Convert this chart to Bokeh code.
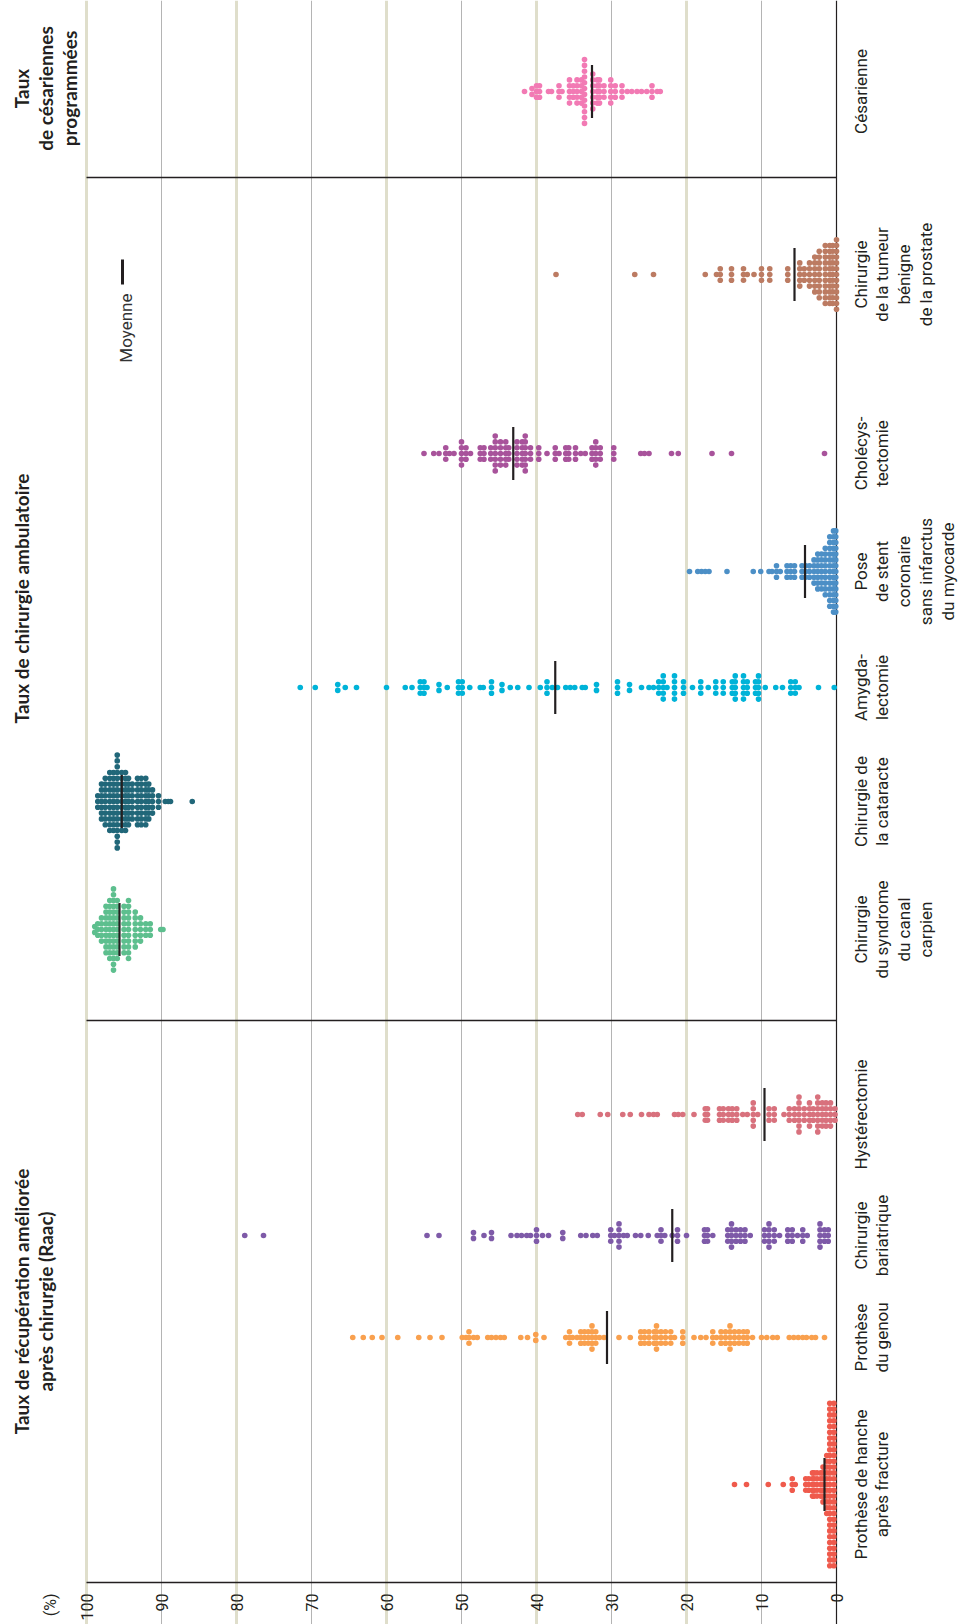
import numpy as np
from math import pi
from bokeh.plotting import figure
from bokeh.models import Range1d, FixedTicker, Grid, Span, ColumnDataSource
from bokeh.core.properties import value
from bokeh.embed import file_html
from bokeh.resources import INLINE

# ---------------------------------------------------------------------------
# Data: rate (%) per hospital, grouped as (rate, number of hospitals at it)
# ---------------------------------------------------------------------------
categories = [
    "Prothèse de hanche\naprès fracture",
    "Prothèse\ndu genou",
    "Chirurgie\nbariatrique",
    "Hystérectomie",
    "Chirurgie\ndu syndrome\ndu canal\ncarpien",
    "Chirurgie de\nla cataracte",
    "Amygda-\nlectomie",
    "Pose\nde stent\ncoronaire\nsans infarctus\ndu myocarde",
    "Cholécys-\ntectomie",
    "Chirurgie\nde la tumeur\nbénigne\nde la prostate",
    "Césarienne",
]

hip_vals = [13.6, 12.0, 9.1, 7.1, 5.9, 5.5, 4.1, 3.7, 3.2, 3.0, 2.6, 2.1, 1.8, 1.3, 0.9, 0.35]
hip_counts = [1, 1, 1, 1, 3, 1, 3, 3, 5, 5, 5, 5, 7, 11, 29, 29]

knee_vals = [64.5, 63.1, 61.9, 60.6, 58.5, 55.7, 54.2, 52.6,
             49.9, 49.4, 49.0, 48.4, 47.9, 46.5, 46.0, 45.4, 44.8, 44.3,
             42.1, 41.2, 40.1, 39.0,
             36.1, 35.6, 35.2, 34.6, 34.1, 33.6, 33.1, 32.6, 32.1, 31.6, 31.0,
             29.0, 27.5,
             26.1, 25.6, 25.0, 24.3, 24.0, 23.4, 22.8, 22.1, 21.6, 20.5,
             19.0, 18.1, 17.4,
             16.5, 16.0, 15.4, 14.8, 14.2, 13.6, 13.0, 12.4, 11.9, 11.2,
             10.0, 9.3, 8.5, 7.9,
             6.3, 5.7, 5.1, 4.5, 4.0, 3.3, 2.8, 1.6]
knee_counts = [1, 1, 1, 1, 1, 1, 1, 1,
               1, 1, 3, 1, 1, 1, 1, 1, 1, 1,
               1, 1, 2, 1,
               1, 3, 1, 1, 3, 3, 3, 5, 3, 1, 1,
               1, 1,
               3, 3, 3, 3, 5, 3, 3, 3, 1, 3,
               1, 1, 1,
               3, 1, 3, 3, 5, 3, 3, 3, 3, 1,
               1, 1, 1, 1,
               1, 1, 1, 1, 1, 1, 1, 1]

bari_vals = [78.9, 76.4, 54.6, 53.0,
             48.4, 47.0, 46.0,
             43.4, 42.6, 42.0, 41.3, 40.8, 40.0, 39.2, 38.4,
             36.5,
             34.1, 33.4, 32.5, 31.9,
             30.1, 29.6, 29.0, 28.4, 27.9,
             26.8, 26.1, 25.1,
             23.9, 23.4, 22.9,
             21.9, 21.2, 20.0,
             17.6, 17.2, 16.5,
             14.5, 14.0, 13.4, 12.8, 12.2, 11.5,
             9.6, 9.0, 8.3, 7.6,
             6.5, 5.9, 5.2, 4.5, 3.9,
             2.2, 1.6, 1.1]
bari_counts = [1, 1, 1, 1,
               2, 1, 2,
               1, 1, 1, 1, 1, 3, 1, 1,
               2,
               1, 1, 1, 1,
               3, 1, 5, 1, 1,
               1, 1, 1,
               1, 3, 1,
               1, 3, 1,
               3, 3, 1,
               3, 5, 3, 3, 3, 1,
               3, 5, 3, 1,
               3, 3, 1, 3, 1,
               5, 3, 3]

hyst_vals = [34.5, 33.9, 31.5, 30.5, 28.5, 27.5, 26.0, 25.0, 24.4, 23.9,
             21.6, 21.1, 20.5, 19.0,
             17.5, 17.2, 15.6, 15.1, 14.4, 13.9, 13.3,
             12.5, 11.9, 11.1, 10.5, 9.0, 8.3,
             7.0, 6.3, 5.6, 5.0, 4.3, 3.6, 3.1,
             2.5, 1.9, 1.4, 0.8, 0.2]
hyst_counts = [1, 1, 1, 1, 1, 1, 1, 1, 1, 1,
               1, 1, 1, 1,
               3, 3, 3, 3, 3, 3, 3,
               1, 1, 5, 1, 3, 3,
               1, 3, 3, 7, 3, 5, 3,
               7, 5, 5, 5, 3]

carpal_vals = [98.9, 98.5, 98.0, 97.4, 96.9, 96.4, 95.9, 95.0, 94.4, 93.5, 92.8, 92.1, 91.5, 90.1, 89.8]
carpal_counts = [2, 3, 5, 9, 11, 15, 11, 9, 11, 7, 5, 3, 3, 1, 1]

cata_vals = [98.5, 98.0, 97.5, 96.9, 96.4, 95.9, 95.3, 94.8, 94.4, 93.9,
             93.2, 92.7, 92.1, 91.7, 91.2, 90.4, 89.5, 89.1, 88.8, 85.9]
cata_counts = [3, 7, 9, 11, 11, 17, 11, 11, 9, 7,
               9, 9, 9, 7, 5, 3, 1, 1, 1, 1]

amyg_vals = [71.5, 69.5, 66.5, 65.5, 64.0,
             60.0, 57.5, 56.6,
             55.5, 55.0, 54.6,
             53.0, 51.9,
             50.4, 49.9, 48.9,
             47.5, 47.1, 46.0,
             44.6, 43.5, 42.5, 41.0,
             39.5, 38.6, 37.9, 37.2,
             36.1, 35.5, 34.9,
             33.9, 33.5, 32.0,
             29.2, 27.6, 26.0,
             25.0, 24.4, 23.7, 23.1, 22.6,
             21.6, 20.4, 19.2,
             18.1, 17.1, 16.1, 15.1,
             13.9, 13.5, 12.4, 11.9,
             10.8, 10.4, 9.5,
             8.1, 7.2, 6.1, 5.5, 5.0,
             2.4, 0.3]
amyg_counts = [1, 1, 2, 1, 1,
               1, 1, 1,
               3, 3, 1,
               2, 1,
               3, 3, 1,
               1, 1, 3,
               2, 1, 1, 1,
               1, 3, 1, 1,
               1, 1, 1,
               1, 1, 2,
               3, 2, 1,
               1, 1, 3, 5, 1,
               5, 3, 1,
               3, 1, 3, 3,
               3, 5, 5, 3,
               3, 5, 1,
               1, 1, 3, 3, 1,
               1, 1]

stent_vals = [19.6, 18.5, 18.0, 17.5, 17.0, 14.6, 11.1, 10.1, 9.0, 8.6,
              8.0, 7.5, 6.6, 6.1, 5.6, 4.6, 4.1, 3.6, 3.0, 2.5, 2.0, 1.5, 0.9, 0.4, 0.1]
stent_counts = [1, 1, 1, 1, 1, 1, 1, 1, 1, 1,
                3, 1, 3, 3, 3, 3, 3, 3, 5, 7, 7, 9, 13, 15, 15]

chole_vals = [55.0, 53.7, 53.0, 52.1, 51.6, 51.0, 50.0, 49.4, 48.8, 47.5,
              47.0, 46.1, 45.5, 44.8, 44.1, 43.7, 42.6, 41.9, 41.5, 40.8,
              39.7, 38.6, 37.5, 37.0, 36.1, 35.7, 34.8, 34.1, 33.5, 32.6,
              32.1, 31.5, 29.7, 26.1, 25.6, 25.0, 22.0, 21.1, 16.6, 14.0,
              1.6]
chole_counts = [1, 1, 1, 3, 1, 1, 5, 3, 1, 3,
                3, 3, 7, 5, 5, 3, 5, 5, 7, 3,
                3, 1, 3, 1, 3, 3, 3, 1, 1, 3,
                5, 3, 3, 1, 1, 1, 1, 1, 1, 1,
                1]

prost_vals = [37.4, 26.9, 24.4, 17.5, 16.0, 15.5, 14.0, 12.4, 11.9, 11.0, 10.0,
              8.9, 6.5, 4.9, 4.3, 3.6, 2.9, 2.3, 1.5, 0.9, 0.5, 0.0]
prost_counts = [1, 1, 1, 1, 1, 3, 3, 3, 1, 1, 3,
                3, 3, 5, 3, 5, 7, 9, 11, 11, 11, 13]

ces_vals = [41.6, 40.6, 40.0, 39.6, 38.4, 38.0, 37.0, 36.6, 35.6, 35.1,
            34.6, 34.0, 33.6, 32.5, 31.9, 31.6, 31.0, 30.1, 29.5, 28.6,
            27.9, 27.3, 26.6, 26.0, 25.3, 24.6, 23.9, 23.5]
ces_counts = [1, 2, 3, 3, 1, 1, 3, 1, 5, 3,
              5, 5, 12, 7, 5, 5, 3, 5, 3, 3,
              1, 1, 1, 1, 1, 3, 1, 1]

mean_values = [1.6, 30.6, 21.9, 9.6, 95.6, 95.3, 37.5, 4.2, 43.1, 5.6, 32.6]

section_titles = [
    "Taux de récupération améliorée\naprès chirurgie (Raac)",
    "Taux de chirurgie ambulatoire",
    "Taux\nde césariennes\nprogrammées",
]

tick_values = [0, 10, 20, 30, 40, 50, 60, 70, 80, 90, 100]
tick_labels = ["0", "10", "20", "30", "40", "50", "60", "70", "80", "90", "100"]
unit_label = "(%)"

# ---------------------------------------------------------------------------
# Layout and styling
# ---------------------------------------------------------------------------
W, H = 965, 1624
AXIS_PX = 1582              # pixel row of the value axis
PX_PER_UNIT = 7.5           # horizontal pixels per percentage point
ZERO_PX = 836               # pixel column of the 0 % line


def xval(px):
    """Horizontal canvas pixel -> value on the (reversed) percentage scale."""
    return (ZERO_PX - px) / PX_PER_UNIT


def yval(py):
    """Vertical canvas pixel (from top) -> data y (pixels above the axis)."""
    return AXIS_PX - py


row_y = [yval(p) for p in (1484, 1337, 1235, 1114, 929, 801, 687, 571, 453, 274, 91)]
separator_y = [yval(177), yval(1020)]
title_y = [yval(1301), yval(598), yval(88)]

colors = ["#ef5a4c", "#f9a04e", "#7e5aa8", "#d8717d", "#5dbf8e", "#216779",
          "#00b3d8", "#4c8fc6", "#a8539b", "#bc7b62", "#f27ab4"]

series = [
    (hip_vals, hip_counts), (knee_vals, knee_counts), (bari_vals, bari_counts),
    (hyst_vals, hyst_counts), (carpal_vals, carpal_counts), (cata_vals, cata_counts),
    (amyg_vals, amyg_counts), (stent_vals, stent_counts), (chole_vals, chole_counts),
    (prost_vals, prost_counts), (ces_vals, ces_counts),
]

STEP = 5.8          # vertical spacing of stacked dots (px)
DOT = 5.6           # dot diameter (px)
MEAN_HALF = 26.5    # half length of the mean marker (px)

INK = "#231f20"
SANS = "Roboto"

# Stack hospitals sharing a rate into a column centred on the category row
xs, ys, cs = [], [], []
for (vals, counts), row, col in zip(series, row_y, colors):
    for v, n in zip(vals, counts):
        for k in range(n):
            xs.append(v)
            ys.append(row + (k - (n - 1) / 2) * STEP)
            cs.append(col)
dots = ColumnDataSource(dict(x=xs, y=ys, c=cs))

# the frame spans the whole canvas: margins hold the labels
p = figure(width=W, height=H,
           x_range=Range1d(xval(0), xval(W)), y_range=Range1d(yval(H), yval(0)),
           output_backend="svg", toolbar_location=None,
           min_border_left=0, min_border_right=0, min_border_top=0,
           min_border_bottom=0, x_axis_location=None, y_axis_location=None,
           outline_line_color=None, background_fill_color="white",
           border_fill_color="white")

# grid: heavy beige every 20 %, thin grey in between; limited to the plot area
p.xgrid.grid_line_color = None
p.ygrid.grid_line_color = None
p.add_layout(Grid(dimension=0, ticker=FixedTicker(ticks=[20, 40, 60, 80, 100]),
                  bounds=(0, yval(0)),
                  grid_line_color="#dfdecb", grid_line_width=3))
p.add_layout(Grid(dimension=0, ticker=FixedTicker(ticks=[10, 30, 50, 70, 90]),
                  bounds=(0, yval(0)),
                  grid_line_color="#b4b4b4", grid_line_width=1))
p.add_layout(Grid(dimension=0, ticker=FixedTicker(ticks=[0]),
                  bounds=(0, yval(0)),
                  grid_line_color=INK, grid_line_width=1.2))

# value axis line and its tick labels
p.segment(x0=[100], x1=[0], y0=[0], y1=[0], line_color=INK, line_width=1.5)
p.text(x=tick_values, y=[yval(1593)] * len(tick_values), text=tick_labels,
       angle=pi / 2, text_align="right", text_baseline="middle",
       text_font=value(SANS), text_font_size="16px", text_color=INK)
p.text(x=[xval(50)], y=[yval(1593)], text=[unit_label],
       angle=pi / 2, text_align="right", text_baseline="middle",
       text_font=value(SANS), text_font_size="16px", text_color=INK)

# separators between the three families of indicators
p.segment(x0=[100] * 2, x1=[0] * 2, y0=separator_y, y1=separator_y,
          line_color=INK, line_width=1.6)

# hospitals
p.scatter("x", "y", source=dots, size=DOT, fill_color="c", line_color=None)

# mean markers
p.segment(x0=mean_values, x1=mean_values,
          y0=[r - MEAN_HALF for r in row_y], y1=[r + MEAN_HALF for r in row_y],
          line_color=INK, line_width=2.2)

# category labels right of the 0 % line
p.text(x=[xval(850)] * len(categories), y=row_y, text=categories,
       angle=pi / 2, text_align="center", text_baseline="top",
       text_font=value(SANS), text_font_size="17px", text_line_height=1.09,
       text_color=INK)

# section titles left of the 100 % line
p.text(x=[xval(9)] * 3, y=title_y, text=section_titles,
       angle=pi / 2, text_align="center", text_baseline="top",
       text_font=value("Lato"), text_font_style="bold", text_font_size="19px",
       text_line_height=1.06, text_color=INK)

# legend for the mean marker
p.segment(x0=[xval(122)], x1=[xval(122)], y0=[yval(284)], y1=[yval(259)],
          line_color=INK, line_width=3)
p.text(x=[xval(125)], y=[yval(293)], text=["Moyenne"], angle=pi / 2,
       text_align="right", text_baseline="middle",
       text_font=value(SANS), text_font_size="17px", text_color="#333333")

open("out.html", "w").write(file_html(p, INLINE))
